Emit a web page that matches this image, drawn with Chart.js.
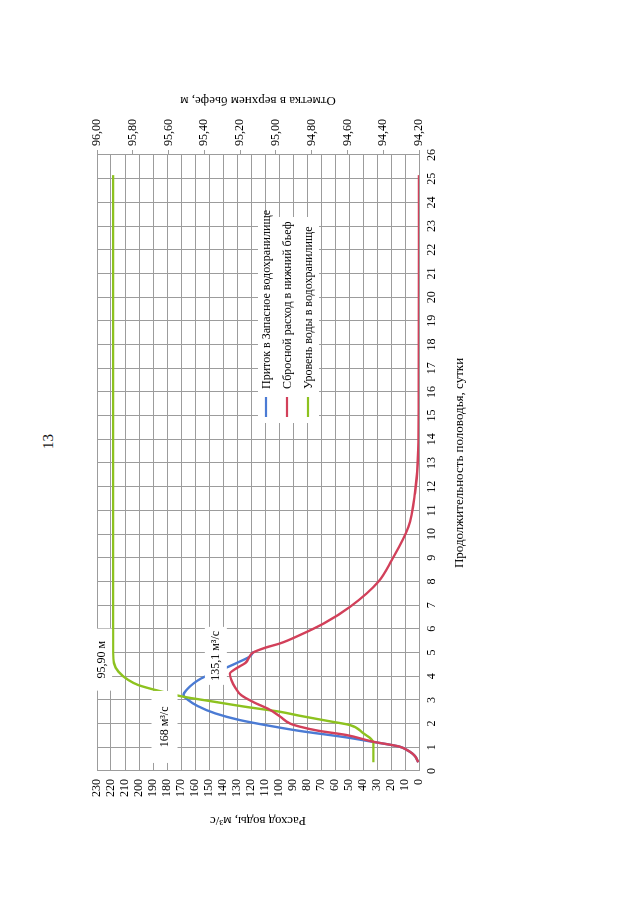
<!DOCTYPE html>
<html lang="ru">
<head>
<meta charset="utf-8">
<title>Половодье</title>
<script src="https://cdn.jsdelivr.net/npm/chart.js@4"></script>
<style>
  html, body { margin: 0; padding: 0; background: #fff; overflow: hidden; }
  body { width: 640px; height: 901px; position: relative; }
  #list {
    position: absolute; left: 0; top: 0; width: 901px; height: 640px;
    transform-origin: 0 0; transform: translate(0px, 901px) rotate(-90deg);
    background: #fff;
  }
  #grafik { position: absolute; left: 0; top: 0; }
  #nomer { position: absolute; left: 452px; top: 40px; font: 15px "Liberation Serif", serif; color: #111; }
  .kromka { position: absolute; left: 0; top: 0; width: 2px; height: 901px; background: #222; }
</style>
</head>
<body>
<div class="kromka"></div>
<div id="list">
  <div id="nomer">13</div>
  <canvas id="grafik" width="901" height="640"></canvas>
</div>
<script>
// подписи осей
const dniMetki = [0,1,2,3,4,5,6,7,8,9,10,11,12,13,14,15,16,17,18,19,20,21,22,23,24,25,26];
const raskhodMetki = [0,10,20,30,40,50,60,70,80,90,100,110,120,130,140,150,160,170,180,190,200,210,220,230];
const otmetkiMetki = [94.2,94.4,94.6,94.8,95.0,95.2,95.4,95.6,95.8,96.0];

// приток в водохранилище, м3/с
const pritokDni = [0.37,0.6,0.75,0.9,1.03,1.24,1.42,1.69,1.9,2.15,2.43,2.74,3.0,3.21,3.46,3.7,3.91,4.12,4.33,4.58,4.83,5.04];
const pritok    = [0.5,2.5,5,9,14,34,52,85,106,128,145.5,158,165,168.2,165.5,161,155.5,147.5,139,129.5,121,118];

// сбросной расход, м3/с
const sbrosDni = [0.37,0.6,0.75,0.9,1.03,1.24,1.52,1.7,1.87,2.0,2.29,2.6,2.9,3.2,3.5,3.84,4.1,4.35,4.56,4.83,5.0,5.2,5.39,5.74,6.23,6.94,7.99,8.9,10.3,11.73,13.55,15.66,25.15];
const sbros    = [0.5,2.5,5,9,14,33,52,72,85,92,99,107,118,127,131,134,135.1,130,124,121,118.5,110,99,85,68,49,29,19.5,7.6,2.9,0.5,0.2,0];

// уровень воды, м
const urovenDni = [0.37,1.17,1.4,1.59,1.94,2.1,2.33,2.5,2.71,2.93,3.14,3.35,3.63,3.84,4.19,4.55,5.0,25.15];
const uroven    = [94.455,94.455,94.475,94.511,94.586,94.70,94.865,94.977,95.17,95.35,95.52,95.638,95.77,95.825,95.88,95.905,95.91,95.91];

const setka = '#9c9c9c';
const shrift = '"Liberation Serif", "Times New Roman", serif';
Chart.defaults.font.family = shrift;
Chart.defaults.font.size = 12;
Chart.defaults.color = '#000';

function tochki(dni, vals) {
  return dni.map((d, i) => ({ x: d, y: vals[i] }));
}

// подписи значений на графике
const podpisi = [
  { label: '168 м³/с', x: 3.21, y: 168.2, axis: 'y', dx: -32, dy: -19, w: 72, h: 26 },
  { label: '135,1 м³/с', x: 4.1, y: 135.1, axis: 'y', dx: 18, dy: -14, w: 58, h: 22 },
  { label: '95,90 м', x: 4.7, y: 95.91, axis: 'y1', dx: 0, dy: -11, w: 62, h: 20 }
];

const podpisiPlugin = {
  id: 'podpisi',
  afterDatasetsDraw(chart) {
    const ctx = chart.ctx;
    ctx.save();
    ctx.font = '12px ' + shrift;
    ctx.textAlign = 'center';
    ctx.textBaseline = 'middle';
    podpisi.forEach(p => {
      const cx = chart.scales.x.getPixelForValue(p.x) + p.dx;
      const cy = chart.scales[p.axis].getPixelForValue(p.y) + p.dy;
      ctx.fillStyle = '#fff';
      ctx.fillRect(cx - p.w / 2, cy - p.h / 2, p.w, p.h);
      ctx.fillStyle = '#000';
      ctx.fillText(p.label, cx, cy);
    });

    // легенда внутри поля графика
    const a = chart.chartArea;
    const lx = a.left + 348, ly = a.top + 161;
    ctx.fillStyle = '#fff';
    ctx.fillRect(lx, ly, 206, 61);
    ctx.textAlign = 'left';
    chart.data.datasets.forEach((ds, i) => {
      const yy = ly + 8 + i * 21;
      ctx.strokeStyle = ds.borderColor;
      ctx.lineWidth = 2.2;
      ctx.beginPath();
      ctx.moveTo(lx + 6, yy);
      ctx.lineTo(lx + 26, yy);
      ctx.stroke();
      ctx.fillStyle = '#000';
      ctx.fillText(ds.label, lx + 34, yy + 1);
    });

    // заголовок правой оси
    const s = chart.scales.y1;
    ctx.translate(s.right - 11.8, (a.top + a.bottom) / 2);
    ctx.rotate(-Math.PI / 2);
    ctx.textAlign = 'center';
    ctx.font = '13px ' + shrift;
    ctx.fillText('Отметка в верхнем бьефе, м', 0, 0);
    ctx.restore();
  }
};

new Chart(document.getElementById('grafik'), {
  type: 'line',
  data: {
    datasets: [{
      label: 'Приток в Запасное водохранилище',
      data: tochki(pritokDni, pritok),
      borderColor: '#4b7bd4',
      yAxisID: 'y',
      order: 3
    }, {
      label: 'Сбросной расход в нижний бьеф',
      data: tochki(sbrosDni, sbros),
      borderColor: '#d2405a',
      yAxisID: 'y',
      order: 1
    }, {
      label: 'Уровень воды в водохранилище',
      data: tochki(urovenDni, uroven),
      borderColor: '#8dc21f',
      yAxisID: 'y1',
      order: 2
    }]
  },
  options: {
    responsive: false,
    animation: false,
    devicePixelRatio: 1,
    elements: {
      point: { radius: 0 },
      line: { borderWidth: 2.4, cubicInterpolationMode: 'monotone' }
    },
    layout: { padding: { left: 69, right: 89, top: 97, bottom: 169 } },
    plugins: {
      legend: { display: false },
      tooltip: { enabled: false }
    },
    scales: {
      x: {
        type: 'linear', min: 0, max: 26,
        afterBuildTicks: s => { s.ticks = dniMetki.map(v => ({ value: v })); },
        afterFit: s => { s.height = 52; },
        grid: { color: setka, drawTicks: false },
        border: { color: setka },
        ticks: { padding: 6, autoSkip: false, maxRotation: 0 },
        title: { display: true, text: 'Продолжительность половодья, сутки', font: { size: 13 }, padding: { top: 0, bottom: 4 } }
      },
      y: {
        position: 'left', min: 0, max: 230,
        afterBuildTicks: s => { s.ticks = raskhodMetki.map(v => ({ value: v })); },
        afterFit: s => { s.width = 61; },
        grid: { color: setka, drawTicks: false },
        border: { color: setka },
        ticks: { padding: 8, autoSkip: false },
        title: { display: true, text: 'Расход воды, м³/с', font: { size: 13 }, padding: { top: 4, bottom: 0 } }
      },
      y1: {
        position: 'right', min: 94.2, max: 96.0,
        afterBuildTicks: s => { s.ticks = otmetkiMetki.map(v => ({ value: v })); },
        afterFit: s => { s.width = 66; },
        grid: { drawOnChartArea: false, color: setka, tickLength: 5 },
        border: { color: setka },
        ticks: { padding: 4, autoSkip: false, callback: v => v.toFixed(2).replace('.', ',') }
      }
    }
  },
  plugins: [podpisiPlugin]
});
</script>
</body>
</html>
